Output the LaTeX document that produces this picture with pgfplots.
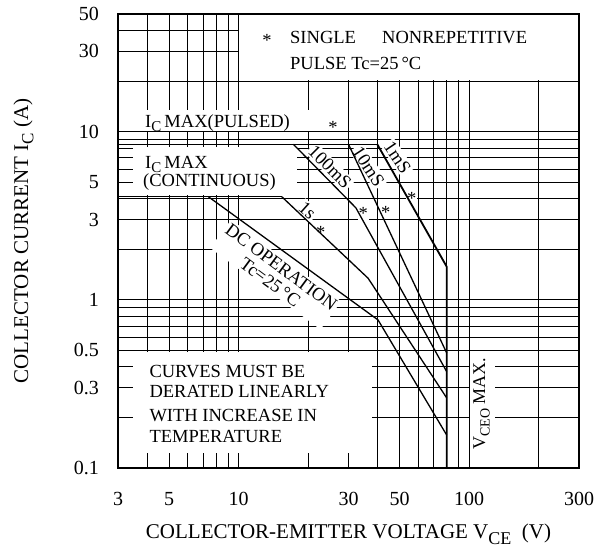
\documentclass[border=0pt]{standalone}
\usepackage{fontspec}
\setmainfont{Liberation Serif}
\usepackage{pgfplots}
\pgfplotsset{compat=1.18}
\tikzset{P/.style 2 args={xshift={(#1-118)*1pt}, yshift={(468-#2)*1pt}}}
\newcommand{\tf}{\fontsize{18.5}{21.8}\selectfont}
\begin{document}
\begin{tikzpicture}[x=1pt,y=1pt]
\useasboundingbox (0,0) rectangle (611,557);
\begin{axis}[
  at={(118pt,89pt)}, anchor=south west,
  scale only axis, width=461pt, height=454pt,
  xmode=log, ymode=log,
  xmin=3, xmax=300, ymin=0.1, ymax=50,
  xtick={3,5,10,30,50,100,300},
  xticklabels={3,5,10,30,50,100,300},
  minor xtick={4,6,7,8,9,20,40,60,70,80,90,200},
  ytick={0.1,0.3,0.5,1,3,5,10,30,50},
  yticklabels={0.1,0.3,0.5,1,3,5,10,30,50},
  minor ytick={0.2,0.4,0.6,0.7,0.8,0.9,2,4,6,7,8,9,20,40},
  grid=both,
  major grid style={black, line width=0.6pt},
  minor grid style={black, line width=0.6pt},
  major tick length=0pt, minor tick length=0pt,
  axis line style={line width=1.6pt},
  tick label style={font=\fontsize{20}{20}\selectfont, inner sep=0pt},
  /pgf/number format/assume math mode=true,
  xticklabel style={anchor=north, yshift=-24pt},
  yticklabel style={anchor=east, xshift=-19pt},
  xlabel={COLLECTOR-EMITTER VOLTAGE V\raisebox{-0.3em}{\fontsize{18}{18}\selectfont CE}\ \ (V)},
  ylabel={COLLECTOR CURRENT I\raisebox{-0.25em}{\fontsize{17}{17}\selectfont C} (A)},
  label style={font=\fontsize{21}{21}\selectfont},
  xlabel style={at={(axis description cs:0.5,-0.1542)}, anchor=base},
  ylabel style={at={(axis description cs:-0.205,0.5)}, anchor=center},
  clip=false,
]
% white masks
\fill[white] ([xshift=0.6pt,yshift=0.6pt]axis cs:10,20) rectangle ([xshift=-1pt,yshift=-1pt]axis cs:300,50);
\fill[white] ([yshift=0.6pt]axis cs:3.48,10) rectangle (axis cs:28.9,13.5);
\fill[white] (axis cs:3.48,4.2) rectangle (axis cs:17.9,8.15);
\fill[white] (axis cs:3.48,0.1228) rectangle (axis cs:37.9,0.49);
\fill[white] ([xshift=0.6pt]axis cs:100,0.1195) rectangle (axis cs:129,0.49);
% labels
\node[P={267}{40.5}, font=\tf, inner sep=0pt] at (rel axis cs:0,0) {*};
\node[P={290}{44}, anchor=base west, font=\tf, inner sep=0pt] at (rel axis cs:0,0) {SINGLE};
\node[P={382}{44}, anchor=base west, font=\tf, inner sep=0pt] at (rel axis cs:0,0) {NONREPETITIVE};
\node[P={290}{69.4}, anchor=base west, font=\tf, inner sep=0pt] at (rel axis cs:0,0) {PULSE Tc=25\,°C};
\node[P={145}{128}, anchor=base west, font=\tf, inner sep=0pt] at (rel axis cs:0,0) {I\raisebox{-0.2em}{\fontsize{15}{15}\selectfont C}\,MAX(PULSED)};
\node[P={333}{127.5}, font=\tf, inner sep=0pt] at (rel axis cs:0,0) {*};
\node[P={145}{169}, anchor=base west, font=\tf, inner sep=0pt] at (rel axis cs:0,0) {I\raisebox{-0.2em}{\fontsize{15}{15}\selectfont C}\,MAX};
\node[P={143}{187}, anchor=base west, font=\tf, inner sep=0pt] at (rel axis cs:0,0) {(CONTINUOUS)};
\node[P={149.3}{377}, anchor=base west, font=\tf, inner sep=0pt] at (rel axis cs:0,0) {CURVES MUST BE};
\node[P={149.3}{397.7}, anchor=base west, font=\tf, inner sep=0pt] at (rel axis cs:0,0) {DERATED LINEARLY};
\node[P={149.3}{421.3}, anchor=base west, font=\tf, inner sep=0pt] at (rel axis cs:0,0) {WITH INCREASE IN};
\node[P={149.3}{442.7}, anchor=base west, font=\tf, inner sep=0pt] at (rel axis cs:0,0) {TEMPERATURE};
\node[P={485}{450}, rotate=90, anchor=base west, font=\fontsize{18}{18}\selectfont, inner sep=0pt] at (rel axis cs:0,0) {V\raisebox{-0.25em}{\fontsize{14}{14}\selectfont CEO} MAX.};
\node[P={275.8}{274.6}, rotate=-36.5, fill=white, align=center, inner sep=2pt, font=\fontsize{18.5}{18.6}\selectfont] at (rel axis cs:0,0) {DC OPERATION\\Tc=25\,°C};
\node[P={307.5}{210.5}, rotate=-42, fill=white, inner sep=1.5pt, font=\tf] at (rel axis cs:0,0) {1s};
\node[P={320.7}{232}, fill=white, inner sep=1pt, font=\tf] at (rel axis cs:0,0) {*};
\node[P={330}{167}, rotate=-45, fill=white, inner sep=1.5pt, font=\tf] at (rel axis cs:0,0) {100mS};
\node[P={368.5}{166.5}, rotate=-57, fill=white, inner sep=1.5pt, font=\tf] at (rel axis cs:0,0) {10mS};
\node[P={397.5}{157.5}, rotate=-56, fill=white, inner sep=1.5pt, font=\tf] at (rel axis cs:0,0) {1mS};
\node[P={363.3}{213}, fill=white, inner sep=1pt, font=\tf] at (rel axis cs:0,0) {*};
\node[P={385.7}{212}, fill=white, inner sep=1pt, font=\tf] at (rel axis cs:0,0) {*};
\node[P={411.7}{198.5}, fill=white, inner sep=1pt, font=\tf] at (rel axis cs:0,0) {*};
% SOA curves
\addplot[black, line width=1.3pt, line join=round] coordinates {(3,8.4) (40,8.4)};
\addplot[black, line width=1.3pt, line join=round] coordinates {(3,4.1) (15.4,4.1)};
\addplot[black, line width=1.3pt, line join=round] coordinates {(7.4,4.1) (40.3,0.759) (80,0.157)};
\addplot[black, line width=1.3pt, line join=round] coordinates {(15.4,4.1) (36.5,1.343) (80,0.261)};
\addplot[black, line width=1.3pt, line join=round] coordinates {(17.3,8.4) (32.3,3.52) (80,0.374)};
\addplot[black, line width=1.3pt, line join=round] coordinates {(30,8.4) (80,0.483)};
\addplot[black, line width=1.8pt, line join=round] coordinates {(40,8.4) (80,1.574) (80,0.1)};
\draw[line width=1.6pt] (rel axis cs:0,0) rectangle (rel axis cs:1,1);
\end{axis}
\end{tikzpicture}
\end{document}
